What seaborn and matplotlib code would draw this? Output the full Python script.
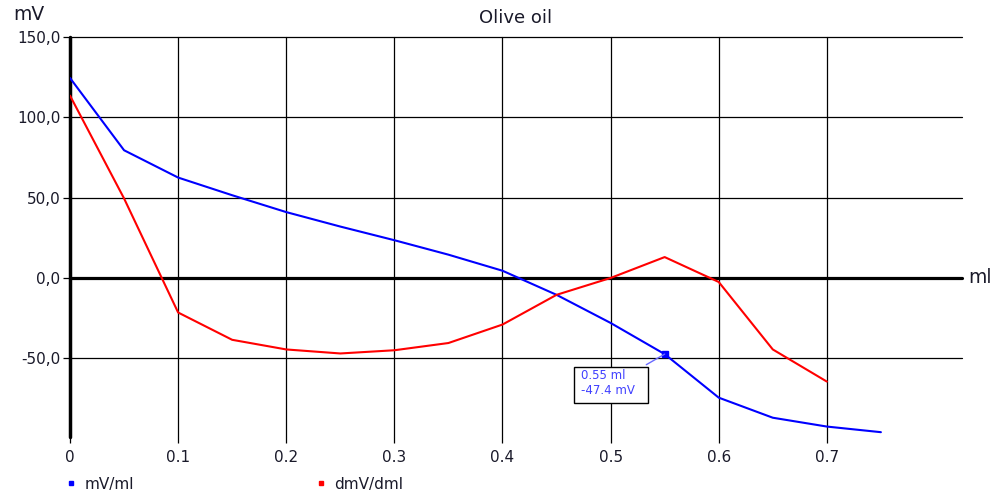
import numpy as np
import pandas as pd
import matplotlib.pyplot as plt
import seaborn as sns
from matplotlib.lines import Line2D
from matplotlib.patches import Rectangle

# data
volume = [0.0, 0.05, 0.1, 0.15, 0.2, 0.25, 0.3, 0.35, 0.4, 0.45, 0.5, 0.55, 0.6, 0.65, 0.7, 0.75]
mv = [124.5, 79.5, 62.5, 51.5, 41.0, 32.0, 23.5, 14.5, 4.5, -10.5, -28.0, -47.4, -74.5, -87.0, -92.5, -96.0]
dmv_vol = [0.0, 0.05, 0.1, 0.15, 0.2, 0.25, 0.3, 0.35, 0.4, 0.45, 0.5, 0.55, 0.6, 0.65, 0.7]
dmv = [113.5, 49.5, -21.5, -38.5, -44.5, -47.0, -45.0, -40.5, -29.0, -10.5, 0.0, 13.0, -2.5, -44.5, -64.5]
x_ticks = [0, 0.1, 0.2, 0.3, 0.4, 0.5, 0.6, 0.7]
x_labels = ['0', '0.1', '0.2', '0.3', '0.4', '0.5', '0.6', '0.7']
y_ticks = [150, 100, 50, 0, -50]
y_labels = ['150,0', '100,0', '50,0', '0,0', '-50,0']
marked = (0.55, -47.4)

df = pd.concat([
    pd.DataFrame({'ml': volume, 'value': mv, 'series': 'mV/ml'}),
    pd.DataFrame({'ml': dmv_vol, 'value': dmv, 'series': 'dmV/dml'}),
])

sns.set_theme(style='white')
plt.rcParams['font.family'] = ['DejaVu Sans']
txt = '#1a1a2a'

fig = plt.figure(figsize=(9.92, 4.95), dpi=100)
ax = fig.add_axes([70/992, 1 - 437/495, 892/992, 400/495])

# grid
for xv in x_ticks[1:]:
    ax.axvline(xv, color='black', lw=0.9, zorder=1, clip_on=False)
for yv in [150, 100, 50, -50]:
    ax.axhline(yv, color='black', lw=0.9, zorder=1, clip_on=False)
ax.axhline(0, color='black', lw=2.3, zorder=1, clip_on=False)
ax.axvline(0, color='black', lw=2.5, zorder=1, clip_on=False)

sns.lineplot(data=df, x='ml', y='value', hue='series',
             palette={'mV/ml': '#0000ff', 'dmV/dml': '#ff0000'},
             linewidth=1.5, legend=False, ax=ax, zorder=3)

ax.set_xlim(0, 0.825)
ax.set_ylim(-99, 150)
ax.set_xticks(x_ticks)
ax.set_xticklabels(x_labels)
ax.set_yticks(y_ticks)
ax.set_yticklabels(y_labels)
ax.set_xlabel('')
ax.set_ylabel('')
for s in ax.spines.values():
    s.set_visible(False)
ax.tick_params(axis='x', direction='out', length=4, width=0.9, color='black',
               labelsize=11, labelcolor=txt, pad=5, bottom=True)
ax.tick_params(axis='y', direction='out', length=5, width=0.9, color='black',
               labelsize=11, labelcolor=txt, pad=2, left=True)

fig.text(516/992, 1 - 18/495, 'Olive oil', fontsize=13, color=txt, ha='center', va='center')
fig.text(13/992, 1 - 15/495, 'mV', fontsize=13.5, color=txt, va='center')
ax.text(1.007, 0, 'ml', transform=ax.get_yaxis_transform(), fontsize=13.5,
        color=txt, va='center', ha='left')

# marked point with label box
ax.plot(*marked, marker='s', ms=4, color='#0000ff', zorder=4)
ax.plot([0.533, marked[0]], [-54.0, marked[1]], color='#6a6aff', lw=1, zorder=4)
ax.add_patch(Rectangle((0.4657, -77.6), 0.0686, 22.3, fc='white', ec='black',
                       lw=1, zorder=5))
ax.text(0.4722, -56.8, '0.55 ml\n-47.4 mV', ha='left', va='top', fontsize=8.5,
        color='#4040ff', linespacing=1.2, zorder=6)

handles = [Line2D([], [], ls='none', marker='s', ms=3.5, color='#0000ff'),
           Line2D([], [], ls='none', marker='s', ms=3.5, color='#ff0000')]
fig.legend(handles, ['mV/ml', 'dmV/dml'], loc='center left',
           bbox_to_anchor=(51/992, 1 - 484/495), ncol=2, frameon=False,
           fontsize=11, handlelength=0.8, handletextpad=0.5, columnspacing=11.8,
           labelcolor=txt)

fig.savefig('out.png', dpi=100)
